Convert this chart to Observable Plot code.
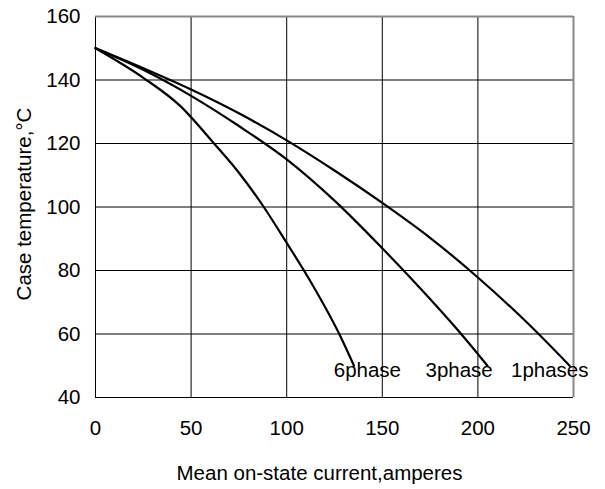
<!DOCTYPE html>
<html>
<head>
<meta charset="utf-8">
<script src="https://cdn.jsdelivr.net/npm/d3@7"></script>
<script src="https://cdn.jsdelivr.net/npm/@observablehq/plot@0.6"></script>
<style>
  html, body { margin: 0; padding: 0; background: #fff; }
  #chart { width: 605px; height: 489px; }
</style>
</head>
<body>
<div id="chart"></div>
<script>
// Series data (current in amperes, case temperature in °C)
const phase1X = [0, 25, 50, 75, 100, 125, 150, 175, 200, 225, 248];
const phase1Y = [150, 143.7, 137, 129.5, 121, 111.5, 101.3, 90.3, 77.8, 64, 50];

const phase3X = [0, 25, 50, 75, 100, 125, 150, 175, 192.8, 205];
const phase3Y = [150, 143.2, 135, 125.5, 115, 102, 87, 71, 58.9, 50];

const phase6X = [0, 25, 44, 62, 75, 88, 100, 113, 127.5, 135.2];
const phase6Y = [150, 140.7, 132, 120, 110.8, 100, 88.7, 76, 60, 50];

// Curve labels
const labelText = ["6phase", "3phase", "1phases"];
const labelX = [124.6, 172.6, 217.3];
const labelY = [48.6, 48.6, 48.6];

// Axis ticks and titles
const xTicks = [0, 50, 100, 150, 200, 250];
const yTicks = [40, 60, 80, 100, 120, 140, 160];
const xTitle = "Mean on-state current,amperes";
const yTitle = "Case temperature,°C";

const toRows = (xs, ys, name) => xs.map((x, i) => ({x, y: ys[i], series: name}));
const rows = [
  ...toRows(phase1X, phase1Y, "1phase"),
  ...toRows(phase3X, phase3Y, "3phase"),
  ...toRows(phase6X, phase6Y, "6phase")
];
const labels = labelText.map((t, i) => ({t, x: labelX[i], y: labelY[i]}));

const xMax = xTicks[xTicks.length - 1];
const yMax = yTicks[yTicks.length - 1];
const xInner = xTicks.filter(v => v !== xMax);
const yInner = yTicks.filter(v => v !== yMax);

const font = "'Liberation Sans', Arial, sans-serif";
const fs = 20.5;

const chart = Plot.plot({
  width: 605,
  height: 489,
  marginLeft: 95,
  marginRight: 32,
  marginTop: 16,
  marginBottom: 92,
  style: {fontFamily: font, fontSize: fs + "px", color: "#000", background: "#fff", overflow: "visible"},
  x: {domain: [0, 250]},
  y: {domain: [40, 160]},
  marks: [
    Plot.ruleX(xInner, {stroke: "#000", strokeWidth: 1}),
    Plot.ruleY(yInner, {stroke: "#000", strokeWidth: 1}),
    Plot.ruleX([xMax], {stroke: "#888", strokeWidth: 2}),
    Plot.ruleY([yMax], {stroke: "#888", strokeWidth: 2}),
    Plot.axisX(xTicks, {tickSize: 0, tickPadding: 23, label: null, fontSize: fs}),
    Plot.axisY(yTicks, {tickSize: 0, tickPadding: 15, label: null, fontSize: fs}),
    Plot.line(rows, {x: "x", y: "y", z: "series", stroke: "#000", strokeWidth: 2.2, curve: "monotone-x"}),
    Plot.text(labels, {x: "x", y: "y", text: "t", textAnchor: "start", lineAnchor: "middle", fill: "#000", fontSize: fs}),
    Plot.text([xTitle], {frameAnchor: "bottom", text: d => d, textAnchor: "middle", dx: -15, dy: 76, lineAnchor: "middle", fill: "#000", fontSize: fs}),
    Plot.text([yTitle], {frameAnchor: "left", text: d => d, textAnchor: "middle", rotate: -90, dx: -71, dy: -3, lineAnchor: "middle", fill: "#000", fontSize: fs})
  ]
});
document.getElementById("chart").append(chart);
</script>
</body>
</html>
